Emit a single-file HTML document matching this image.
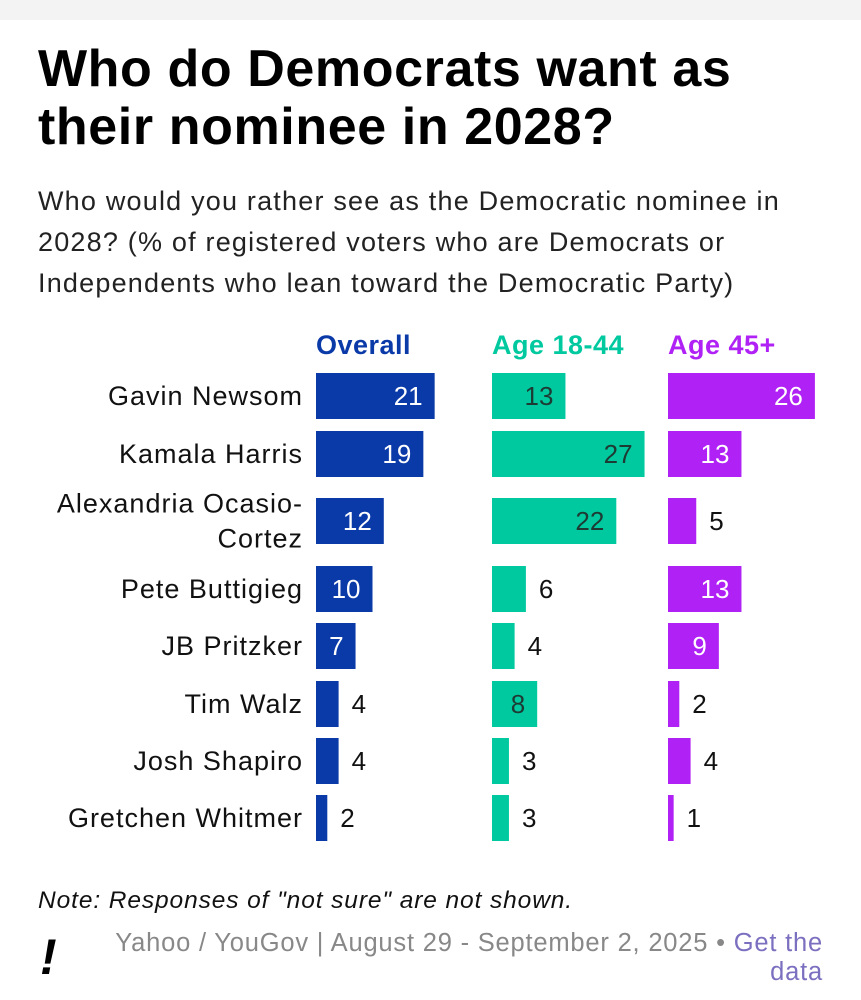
<!DOCTYPE html>
<html><head><meta charset="utf-8"><style>
body{margin:0;width:861px;height:1000px;background:#fff;font-family:"Liberation Sans",sans-serif;position:relative;overflow:hidden}
.topbar{position:absolute;left:0;top:0;width:861px;height:20px;background:#f3f3f3}
h1{position:absolute;left:38px;top:40px;margin:0;font-size:52px;line-height:58px;font-weight:bold;color:#000;letter-spacing:0.6px}
.sub{position:absolute;left:38px;top:181px;width:810px;font-size:27px;line-height:41px;color:#222;letter-spacing:1.2px;white-space:nowrap}
.note{position:absolute;left:38px;top:887px;font-size:24.5px;font-style:italic;color:#111;letter-spacing:0.9px}
.src{position:absolute;left:60px;top:929px;width:763px;text-align:right;font-size:25.5px;line-height:29px;color:#888;letter-spacing:0.8px}
.src a{color:#7b6fc0;text-decoration:none}
.bang{position:absolute;left:40px;top:928px;font-size:50px;font-weight:bold;font-style:italic;color:#000}
</style></head><body>
<div class="topbar"></div>
<h1>Who do Democrats want as<br>their nominee in 2028?</h1>
<div class="sub">Who would you rather see as the Democratic nominee in<br>2028? (% of registered voters who are Democrats or<br>Independents who lean toward the Democratic Party)</div>
<svg id="chart" width="861" height="1000" style="position:absolute;left:0;top:0"></svg>
<div class="note">Note: Responses of "not sure" are not shown.</div>
<div class="bang">!</div>
<div class="src">Yahoo / YouGov | August 29 - September 2, 2025 • <a href="#">Get the<br>data</a></div>
<script>
const names=[["Gavin Newsom"],["Kamala Harris"],["Alexandria Ocasio-","Cortez"],["Pete Buttigieg"],["JB Pritzker"],["Tim Walz"],["Josh Shapiro"],["Gretchen Whitmer"]];
const overall=[21,19,12,10,7,4,4,2];
const young=[13,27,22,6,4,8,3,3];
const old=[26,13,5,13,9,2,4,1];
const headers=["Overall","Age 18-44","Age 45+"];
const rowY=[396,454,521,589,646,704,761,818];
const NS="http://www.w3.org/2000/svg";
const svg=document.getElementById('chart');
const cols=[{x:316,c:"#0a39a8",t:"#fff",d:overall,th:7},{x:492,c:"#00c9a0",t:"#1d3a33",d:young,th:7},{x:668,c:"#b021f5",t:"#fff",d:old,th:7}];
const k=5.65,bh=46;
function el(tag,a,txt){const e=document.createElementNS(NS,tag);for(const n in a)e.setAttribute(n,a[n]);if(txt!==undefined)e.textContent=txt;svg.appendChild(e);return e;}
cols.forEach((col,ci)=>{
  const h=el('text',{x:col.x,y:354,'font-size':27,'font-weight':'bold',fill:col.c,'letter-spacing':'0.5'},headers[ci]);
  
  
  col.d.forEach((v,i)=>{
    const y=rowY[i],w=v*k;
    const r=el('rect',{x:col.x,y:y-bh/2,width:w,height:bh,fill:col.c});
    
    
    const inside=v>=col.th;
    const t=el('text',{x:inside?col.x+w-12:col.x+w+13,y:y+9,'font-size':26,fill:inside?col.t:'#111','text-anchor':inside?'end':'start'},v);
    
    
  });
});
names.forEach((n,i)=>{
  n.forEach((line,j)=>{
    const t=el('text',{x:303,y:rowY[i]+9+(n.length>1?(j-0.5)*35:0),'font-size':27,fill:'#111','text-anchor':'end','letter-spacing':'1'},line);
    
    
  });
});
</script>
</body></html>
